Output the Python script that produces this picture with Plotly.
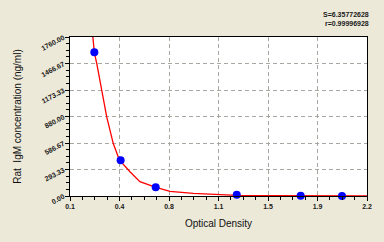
import plotly.graph_objects as go

# Data
od_points = [0.272, 0.458, 0.706, 1.279, 1.731, 2.023]
conc_points = [1590, 395, 96, 14, 2, 0]

curve_x = [0.258, 0.272, 0.289, 0.324, 0.360, 0.406, 0.449, 0.524, 0.594, 0.708,
           0.807, 0.972, 1.147, 1.279, 1.500, 1.726, 2.000, 2.2]
curve_y = [1819, 1590, 1467, 1188, 874, 580, 399, 269, 158, 96,
           52, 30, 14, 8, 4, 2, 1, 0]

x_tickvals = [0.1, 0.45, 0.8, 1.15, 1.5, 1.85, 2.2]
x_ticktext = ["0.1", "0.4", "0.8", "1.1", "1.5", "1.9", "2.2"]
y_tickvals = [0, 293.33, 586.67, 880, 1173.33, 1466.67, 1760]
y_ticktext = ["0.00", "293.33", "586.67", "880.00", "1173.33", "1466.67", "1760.00"]

stats = ["S=6.35772628", "r=0.99996928"]

x_minor = [a + (b - a) * k / 4 for a, b in zip(x_tickvals[:-1], x_tickvals[1:]) for k in (1, 2, 3)]
y_minor = [a + (b - a) * k / 4 for a, b in zip(y_tickvals[:-1], y_tickvals[1:]) for k in (1, 2, 3)]

BG = "#ECE9D8"
tickfont = dict(family="Liberation Sans, Arial", size=7, color="#1a1a1a", weight="bold")

fig = go.Figure()
fig.add_trace(go.Scatter(x=curve_x, y=curve_y, mode="lines",
                         line=dict(color="#ff0000", width=1.3), showlegend=False))
fig.add_trace(go.Scatter(x=od_points, y=conc_points, mode="markers",
                         marker=dict(color="#0000ff", size=8, symbol="circle"),
                         cliponaxis=False, showlegend=False))

fig.update_layout(
    width=384, height=242,
    margin=dict(l=70, r=17, t=37, b=46),
    paper_bgcolor=BG, plot_bgcolor="#ffffff",
    font=dict(family="Liberation Sans, Arial", color="#000000"),
)
fig.update_xaxes(
    range=[0.1, 2.2], tickmode="array", tickvals=x_tickvals, ticktext=x_ticktext,
    showline=True, linecolor="#000000", linewidth=1, mirror=True,
    ticks="outside", ticklen=4, tickcolor="#000000",
    showgrid=True, gridcolor="#a8a8a0", griddash="4px,3px", gridwidth=1,
    zeroline=False, tickfont=tickfont,
    minor=dict(tickmode="array", tickvals=x_minor, ticks="outside", ticklen=3,
               tickcolor="#000000", showgrid=False),
    title=dict(text="Optical Density", font=dict(size=10, color="#101010"), standoff=10),
)
fig.update_yaxes(
    range=[0, 1760], tickmode="array", tickvals=y_tickvals, ticktext=y_ticktext,
    showline=True, linecolor="#000000", linewidth=1, mirror=True,
    ticks="outside", ticklen=4, tickcolor="#000000",
    showgrid=True, gridcolor="#a8a8a0", griddash="4px,3px", gridwidth=1,
    zeroline=False, tickfont=tickfont, tickangle=-28,
    minor=dict(tickmode="array", tickvals=y_minor, ticks="outside", ticklen=3,
               tickcolor="#000000", showgrid=False),
    title=dict(text="Rat  IgM concentration (ng/ml)", font=dict(size=10, color="#101010"), standoff=16),
)
fig.add_annotation(x=1, y=1, xref="paper", yref="paper", xanchor="right", yanchor="bottom",
                   xshift=4, yshift=8, text="<br>".join(stats), showarrow=False, align="right",
                   font=dict(size=7, color="#1a1a1a", weight="bold"))

fig.write_html("out.html")
